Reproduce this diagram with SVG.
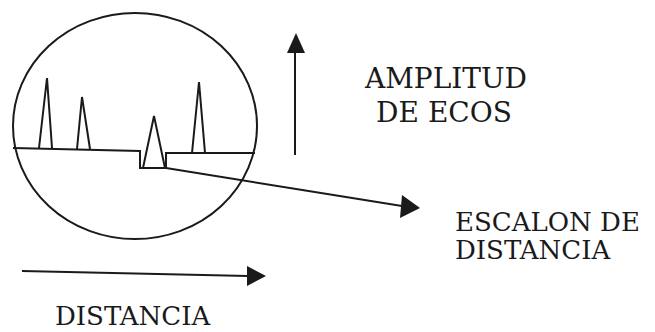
<svg xmlns="http://www.w3.org/2000/svg" width="655" height="332" viewBox="0 0 655 332">
<style>
.ln{fill:none;stroke:#1a1a1a;stroke-width:2;stroke-linejoin:miter}
.tx{font-family:'DejaVu Serif',serif;font-size:28px;fill:#1a1a1a}
.tx2{font-family:'DejaVu Serif',serif;font-size:26px;fill:#1a1a1a}
</style>
<rect width="655" height="332" fill="#ffffff"/>
<g id="screen">
<ellipse class="ln" cx="135" cy="126" rx="122" ry="113"/>
<path class="ln" d="M13,148 L140,151 L140,168 L166,168 L166,153 L255,153"/>
<path class="ln" d="M39,148 L47,78 L52,148"/>
<path class="ln" d="M77,149 L82,97 L90,149"/>
<path class="ln" d="M143,168 L154,116 L165,168"/>
<path class="ln" d="M192,153 L199,82 L205,153"/>
</g>
<g id="connectors">
<line class="ln" x1="166" y1="168" x2="402" y2="206"/>
<path d="M402,195 L420,208 L400,218 Z" fill="#1a1a1a"/>
<line class="ln" x1="295" y1="155" x2="295" y2="50"/>
<path d="M287,53 L296,33 L305,53 Z" fill="#1a1a1a"/>
<line class="ln" x1="22" y1="271" x2="248" y2="276"/>
<path d="M247,266 L266,276 L247,286 Z" fill="#1a1a1a"/>
</g>
<g id="label-amplitud">
<text class="tx" x="446" y="88" text-anchor="middle">AMPLITUD</text>
<text class="tx" x="444" y="122" text-anchor="middle">DE ECOS</text>
</g>
<g id="label-escalon">
<text class="tx2" x="455" y="231">ESCALON DE</text>
<text class="tx2" x="455" y="259">DISTANCIA</text>
</g>
<g id="label-distancia">
<text class="tx2" x="55" y="325">DISTANCIA</text>
</g>
</svg>
